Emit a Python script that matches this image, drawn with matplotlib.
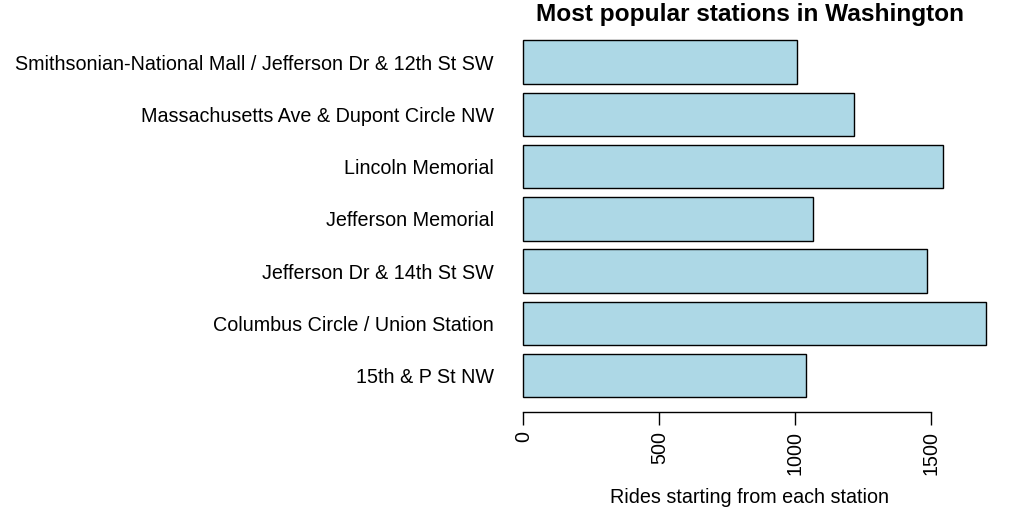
import matplotlib
matplotlib.use("Agg")
import matplotlib.pyplot as plt

stations = ["15th & P St NW",
            "Columbus Circle / Union Station",
            "Jefferson Dr & 14th St SW",
            "Jefferson Memorial",
            "Lincoln Memorial",
            "Massachusetts Ave & Dupont Circle NW",
            "Smithsonian-National Mall / Jefferson Dr & 12th St SW"]
rides = [1040, 1699, 1485, 1066, 1544, 1217, 1007]
x_ticks = [0, 500, 1000, 1500]
title = "Most popular stations in Washington"
xlabel = "Rides starting from each station"

plt.rcParams['font.family'] = ['Liberation Sans', 'DejaVu Sans']
fig = plt.figure(figsize=(10.12, 5.22), dpi=100)
W, H = 1012, 522
left, right, top, bottom = 505, 1004, 26, 411.7
ax = fig.add_axes([left / W, 1 - bottom / H, (right - left) / W, (bottom - top) / H])

width, space = 1.0, 0.2
n = len(stations)
centers = [space + width / 2 + i * (width + space) for i in range(n)]
ax.barh(centers, rides, height=width, color='#ADD8E6', edgecolor='black', linewidth=1.0)

ymin, ymax = space, n * (width + space)
yr = ymax - ymin
ax.set_ylim(ymin - 0.04 * yr, ymax + 0.04 * yr)
xmax = max(rides)
ax.set_xlim(-0.04 * xmax, xmax * 1.04)

for s in ['top', 'right', 'left']:
    ax.spines[s].set_visible(False)
ax.spines['bottom'].set_bounds(x_ticks[0], x_ticks[-1])
ax.spines['bottom'].set_linewidth(1.0)
ax.set_xticks(x_ticks)
ax.set_xticklabels([str(t) for t in x_ticks], rotation=90, fontsize=14.2)
ax.tick_params(axis='x', length=9, width=1.0, pad=5)
ax.set_yticks(centers)
ax.set_yticklabels(stations, fontsize=14.2)
ax.tick_params(axis='y', length=0, pad=8)

ax.set_xlabel(xlabel, fontsize=14.2, labelpad=9)
ax.xaxis.label.set_x((750 - left) / (right - left))
fig.text(750 / W, 1 - 15 / H, title, ha='center', va='center',
         fontsize=17.6, fontweight='bold')

fig.savefig("out.png", dpi=100)
